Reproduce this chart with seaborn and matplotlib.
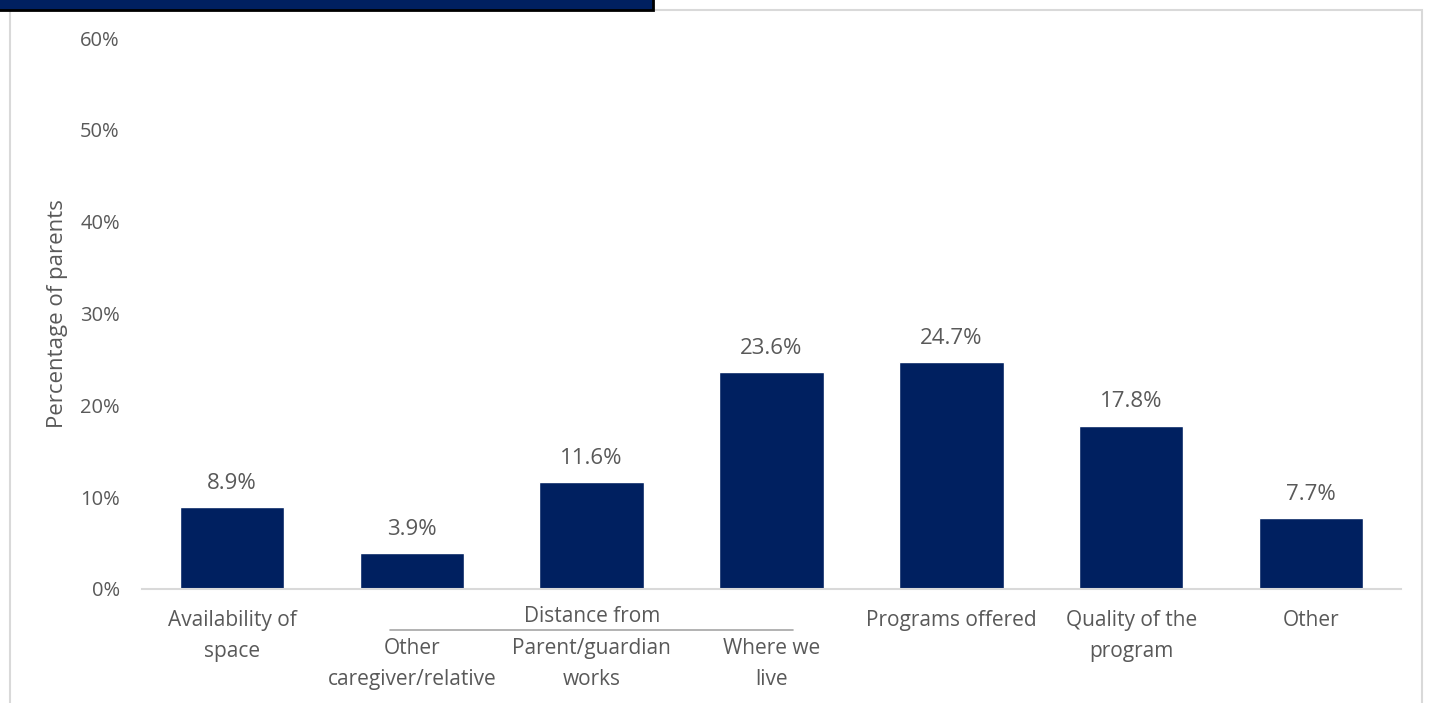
import matplotlib.pyplot as plt
import seaborn as sns
import pandas as pd
from matplotlib.patches import Rectangle

# data
categories = ["Availability of space", "Other caregiver/relative", "Parent/guardian works",
              "Where we live", "Programs offered", "Quality of the program", "Other"]
tick_labels = ["Availability of\nspace", "Other\ncaregiver/relative", "Parent/guardian\nworks",
               "Where we\nlive", "Programs offered", "Quality of the\nprogram", "Other"]
values = [8.9, 3.9, 11.6, 23.6, 24.7, 17.8, 7.7]
group_label = "Distance from"
group_members = ["Other caregiver/relative", "Parent/guardian works", "Where we live"]

df = pd.DataFrame({"reason": categories, "pct": values})

navy = "#002060"
grey_txt = "#595959"

sns.set_theme(style="white")
plt.rcParams['font.family'] = ['Open Sans', 'DejaVu Sans']

W, H = 1432, 703
fig = plt.figure(figsize=(W / 100, H / 100), dpi=100)
ax = fig.add_axes([142 / W, 1 - 589 / H, (1401 - 142) / W, (589 - 38) / H])

sns.barplot(data=df, x="reason", y="pct", color=navy, width=0.58, saturation=1, ax=ax)

ax.set_ylim(0, 60)
ax.set_xlim(-0.5, len(categories) - 0.5)
yt = list(range(0, 61, 10))
ax.set_yticks(yt)
ax.set_yticklabels([f"{v}%" for v in yt])
ax.tick_params(axis="y", length=0, pad=16, labelsize=14.5, labelcolor=grey_txt)
ax.set_xticks(range(len(categories)))
ax.set_xticklabels([])
ax.tick_params(axis="x", length=0)
ax.set_xlabel("")
ax.set_ylabel("Percentage of parents", fontsize=16, color=grey_txt)
ax.yaxis.set_label_coords((68 - 142) / 1259, 0.5)

sns.despine(ax=ax, left=True)
ax.spines["bottom"].set_color("#d9d9d9")
ax.spines["bottom"].set_linewidth(1.5)

# value labels
for i, v in enumerate(values):
    ax.annotate(f"{v}%", xy=(i, v), xytext=(0, 24), textcoords="offset pixels",
                ha="center", va="center", fontsize=16, color=grey_txt)

# category labels
grp_idx = [categories.index(c) for c in group_members]
for i, lab in enumerate(tick_labels):
    dy = -49 if i in grp_idx else -21
    ax.annotate(lab, xy=(i, 0), xytext=(0, dy), textcoords="offset pixels",
                ha="center", va="top", fontsize=15, color=grey_txt, linespacing=1.6,
                annotation_clip=False)

# group header
gx = sum(grp_idx) / len(grp_idx)
ax.annotate(group_label, xy=(gx, 0), xytext=(0, -28), textcoords="offset pixels",
            ha="center", va="center", fontsize=15, color=grey_txt, annotation_clip=False)
ax.plot([min(grp_idx) - 0.12, max(grp_idx) + 0.12], [-41 / 551] * 2,
        transform=ax.get_xaxis_transform(), color="#a6a6a6", lw=1.2, clip_on=False)

# outer frame and top banner
fig.patches.append(Rectangle((10 / W, -0.1), (1422 - 10) / W, (H - 10) / H + 0.1,
                             transform=fig.transFigure, fill=False,
                             edgecolor="#d9d9d9", lw=1.5, zorder=0))
fig.patches.append(Rectangle((-0.01, 1 - 10 / H), 653 / W + 0.01, 0.05,
                             transform=fig.transFigure, facecolor=navy,
                             edgecolor="black", lw=2, zorder=5))

fig.savefig("out.png", dpi=100)
